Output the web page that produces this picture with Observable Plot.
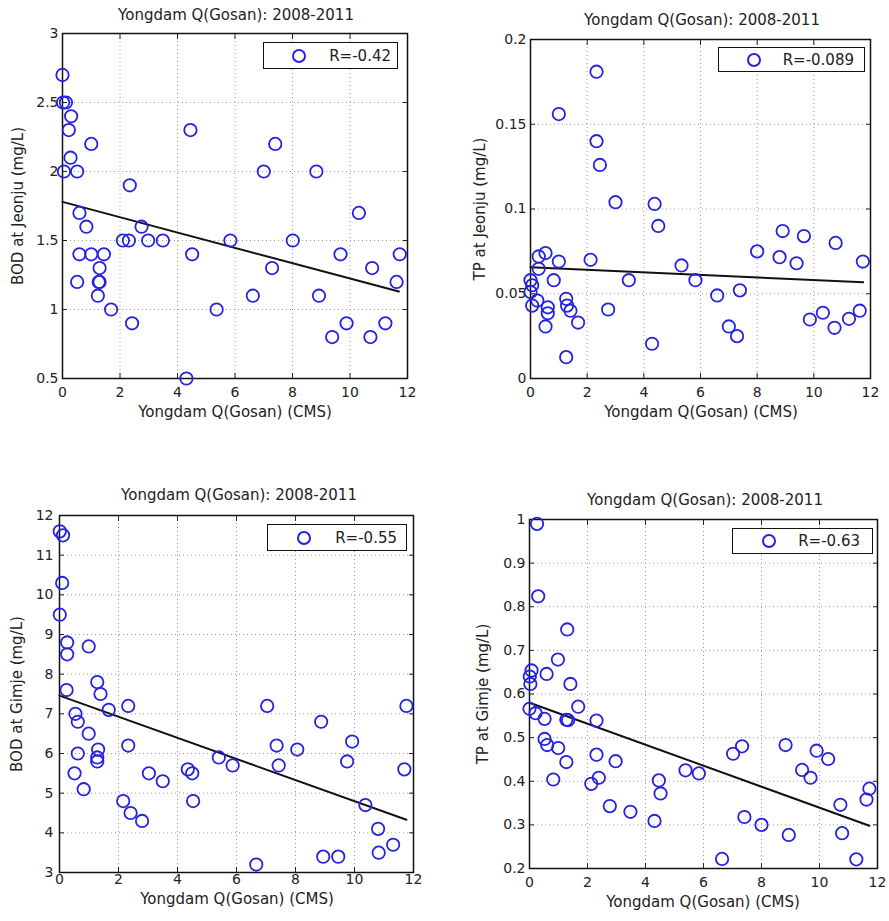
<!DOCTYPE html>
<html>
<head>
<meta charset="utf-8">
<script src="https://cdn.jsdelivr.net/npm/d3@7"></script>
<script src="https://cdn.jsdelivr.net/npm/@observablehq/plot@0.6"></script>
<style>
  html, body { margin: 0; padding: 0; background: #fff; }
  #root { position: relative; width: 889px; height: 921px; overflow: hidden; background: #fff;
          font-family: "DejaVu Sans", sans-serif; color: #222; }
  .abs { position: absolute; }
  .title, .xlab { position: absolute; transform: translate(-50%, -50%); white-space: nowrap; font-size: 15px; }
  .ylab { position: absolute; transform: translate(-50%, -50%) rotate(-90deg); white-space: nowrap; font-size: 15px; }
  .legend { position: absolute; box-sizing: border-box; border: 1.4px solid #111; background: #fff;
            font-size: 15px; display: flex; align-items: center; justify-content: flex-end; }
  .legend .mk { position: absolute; top: 50%; width: 10px; height: 10px; border: 2px solid #2323e0;
                border-radius: 50%; transform: translate(-50%, -50%); }
</style>
</head>
<body>
<div id="root"></div>
<script>
// ---------- shared ----------
const titleText = "Yongdam Q(Gosan): 2008-2011";
const xLabelText = "Yongdam Q(Gosan) (CMS)";
const xTicks = [0, 2, 4, 6, 8, 10, 12];

// ---------- Panel 1: BOD at Jeonju ----------
const bodJeonjuQ = [0.0, 0.02, 0.12, 0.3, 0.22, 1.0, 0.28, 0.05, 0.51, 2.34, 4.45, 7.4, 7.0, 8.83,
  10.31, 0.59, 0.83, 2.75, 2.1, 2.31, 2.98, 3.49, 5.84, 8.01,
  0.59, 1.0, 1.44, 4.51, 9.67, 11.73, 1.29, 7.29, 10.77,
  0.51, 1.29, 1.26, 11.62, 1.23, 6.62, 8.92, 1.69, 5.36,
  2.42, 9.88, 11.23, 9.38, 10.71, 4.31];
const bodJeonju = [2.7, 2.5, 2.5, 2.4, 2.3, 2.2, 2.1, 2.0, 2.0, 1.9, 2.3, 2.2, 2.0, 2.0,
  1.7, 1.7, 1.6, 1.6, 1.5, 1.5, 1.5, 1.5, 1.5, 1.5,
  1.4, 1.4, 1.4, 1.4, 1.4, 1.4, 1.3, 1.3, 1.3,
  1.2, 1.2, 1.2, 1.2, 1.1, 1.1, 1.1, 1.0, 1.0,
  0.9, 0.9, 0.9, 0.8, 0.8, 0.5];
const bodJeonjuFitQ = [0, 11.7];
const bodJeonjuFit = [1.78, 1.13];
const bodJeonjuTicks = [0.5, 1, 1.5, 2, 2.5, 3];

// ---------- Panel 2: TP at Jeonju ----------
const tpJeonjuQ = [2.33, 1.0, 2.33, 2.45, 3.0, 4.38, 4.51, 8.9, 9.65, 10.77, 8.0, 8.79, 9.39, 11.73, 5.33,
  2.12, 1.0, 0.53, 0.29, 0.29, 0.82, 3.47, 5.82, 0.0, 0.06, 0.0, 0.24, 0.06, 0.61, 0.61,
  0.53, 1.26, 1.29, 1.41, 1.68, 1.26, 2.74, 4.29, 6.59, 7.39, 7.0, 7.29, 9.86, 10.32, 10.73,
  11.24, 11.62];
const tpJeonju = [0.181, 0.156, 0.140, 0.126, 0.104, 0.103, 0.090, 0.087, 0.084, 0.080, 0.075, 0.0716, 0.068, 0.069, 0.0667,
  0.070, 0.069, 0.074, 0.072, 0.0647, 0.058, 0.058, 0.058, 0.058, 0.055, 0.051, 0.046, 0.043, 0.042, 0.0385,
  0.0307, 0.047, 0.043, 0.040, 0.033, 0.0126, 0.0407, 0.0205, 0.049, 0.052, 0.0307, 0.025, 0.0348, 0.0388, 0.0299,
  0.0352, 0.040];
const tpJeonjuFitQ = [0, 11.74];
const tpJeonjuFit = [0.0657, 0.0568];
const tpJeonjuTicks = [0, 0.05, 0.1, 0.15, 0.2];

// ---------- Panel 3: BOD at Gimje ----------
const bodGimjeQ = [0.01, 0.12, 0.09, 0.01, 0.26, 0.26, 0.99, 1.28,
  0.24, 1.39, 1.67, 2.33, 0.54, 0.62, 0.99, 1.31, 1.28, 1.28, 0.62, 2.33,
  0.51, 0.82, 3.03, 3.5, 2.16, 2.41, 2.8, 4.35, 4.5, 4.53, 5.4, 5.87,
  7.04, 7.36, 7.43, 8.06, 8.87, 9.92, 9.75, 10.37, 10.8, 10.82, 11.31,
  8.94, 9.45, 6.67, 11.76, 11.69];
const bodGimje = [11.6, 11.5, 10.3, 9.5, 8.8, 8.5, 8.7, 7.8,
  7.6, 7.5, 7.1, 7.2, 7.0, 6.8, 6.5, 6.1, 5.9, 5.8, 6.0, 6.2,
  5.5, 5.1, 5.5, 5.3, 4.8, 4.5, 4.3, 5.6, 5.5, 4.8, 5.9, 5.7,
  7.2, 6.2, 5.7, 6.1, 6.8, 6.3, 5.8, 4.7, 4.1, 3.5, 3.7,
  3.4, 3.4, 3.2, 7.2, 5.6];
const bodGimjeFitQ = [0, 11.76];
const bodGimjeFit = [7.46, 4.33];
const bodGimjeTicks = [3, 4, 5, 6, 7, 8, 9, 10, 11, 12];

// ---------- Panel 4: TP at Gimje ----------
const tpGimjeQ = [0.26, 0.3, 1.3, 0.98, 0.07, 0.01, 0.59, 1.41, 0.03, 0.0,
  0.21, 0.52, 1.68, 1.27, 1.33, 2.31, 0.52, 0.61, 0.99, 1.27,
  0.82, 2.31, 2.97, 2.13, 2.39, 2.77, 3.48, 4.31, 4.46, 4.52,
  5.38, 5.84, 6.64, 7.02, 7.33, 7.41, 8.0, 8.83, 8.94, 9.4,
  9.69, 9.9, 10.3, 10.72, 10.78, 11.27, 11.62, 11.72];
const tpGimje = [0.99, 0.824, 0.748, 0.679, 0.654, 0.64, 0.646, 0.623, 0.623, 0.566,
  0.556, 0.543, 0.571, 0.541, 0.54, 0.539, 0.497, 0.483, 0.476, 0.444,
  0.404, 0.461, 0.446, 0.394, 0.408, 0.343, 0.33, 0.309, 0.402, 0.372,
  0.425, 0.418, 0.222, 0.463, 0.48, 0.318, 0.30, 0.483, 0.277, 0.426,
  0.408, 0.47, 0.451, 0.346, 0.281, 0.221, 0.358, 0.383];
const tpGimjeFitQ = [0, 11.72];
const tpGimjeFit = [0.58, 0.298];
const tpGimjeTicks = [0.2, 0.3, 0.4, 0.5, 0.6, 0.7, 0.8, 0.9, 1];

const rLabels = ["R=-0.42", "R=-0.089", "R=-0.55", "R=-0.63"];
const yLabels = ["BOD at Jeonju (mg/L)", "TP at Jeonju (mg/L)", "BOD at Gimje (mg/L)", "TP at Gimje (mg/L)"];

const BLUE = "#2323e0";
const root = document.getElementById("root");

function makePanel(cfg) {
  const pts = cfg.q.map((q, i) => ({q, v: cfg.v[i]}));
  const fit = cfg.fitQ.map((q, i) => ({q, v: cfg.fit[i]}));
  const g = cfg.geom;
  const chart = Plot.plot({
    width: g.w, height: g.h,
    marginLeft: g.fl - g.left, marginRight: g.left + g.w - g.fr,
    marginTop: g.ft - g.top, marginBottom: g.top + g.h - g.fb,
    style: {fontFamily: "DejaVu Sans, sans-serif", fontSize: "14px", color: "#222", background: "transparent", overflow: "visible"},
    x: {domain: [0, 12]},
    y: {domain: cfg.yDomain},
    marks: [
      Plot.gridX(xTicks, {stroke: "#9a9a9a", strokeOpacity: 1, strokeWidth: 1, strokeDasharray: "1,3"}),
      Plot.gridY(cfg.yTicks, {stroke: "#9a9a9a", strokeOpacity: 1, strokeWidth: 1, strokeDasharray: "1,3"}),
      Plot.axisX(xTicks, {anchor: "bottom", tickSize: -5, tickPadding: g.tpx, tickFormat: d => String(d), label: null}),
      Plot.axisX(xTicks, {anchor: "top", tickSize: -5, tickFormat: () => "", label: null}),
      Plot.axisY(cfg.yTicks, {anchor: "left", tickSize: -5, tickPadding: g.tpy, tickFormat: d => String(d), label: null}),
      Plot.axisY(cfg.yTicks, {anchor: "right", tickSize: -5, tickFormat: () => "", label: null}),
      Plot.frame({stroke: "#111", strokeWidth: 1.5}),
      Plot.line(fit, {x: "q", y: "v", stroke: "#111", strokeWidth: 2}),
      Plot.dot(pts, {x: "q", y: "v", r: 6.2, stroke: BLUE, strokeWidth: 1.8, fill: "none"})
    ]
  });
  chart.style.position = "absolute";
  chart.style.left = g.left + "px";
  chart.style.top = g.top + "px";
  root.appendChild(chart);

  const t = document.createElement("div");
  t.className = "title"; t.textContent = titleText;
  t.style.left = g.titleX + "px"; t.style.top = g.titleY + "px";
  root.appendChild(t);

  const xl = document.createElement("div");
  xl.className = "xlab"; xl.textContent = xLabelText;
  xl.style.left = g.xlX + "px"; xl.style.top = g.xlY + "px";
  root.appendChild(xl);

  const yl = document.createElement("div");
  yl.className = "ylab"; yl.textContent = cfg.yLabel;
  yl.style.left = g.ylX + "px"; yl.style.top = ((g.ft + g.fb) / 2) + "px";
  root.appendChild(yl);

  const lg = document.createElement("div");
  lg.className = "legend";
  lg.style.left = g.lg[0] + "px"; lg.style.top = g.lg[1] + "px";
  lg.style.width = g.lg[2] + "px"; lg.style.height = g.lg[3] + "px";
  lg.style.paddingRight = g.lg[5] + "px";
  const mk = document.createElement("span");
  mk.className = "mk"; mk.style.left = g.lg[4] + "px";
  lg.appendChild(mk);
  const lt = document.createElement("span");
  lt.textContent = cfg.rLabel;
  lg.appendChild(lt);
  root.appendChild(lg);
}

makePanel({
  q: bodJeonjuQ, v: bodJeonju, fitQ: bodJeonjuFitQ, fit: bodJeonjuFit,
  yDomain: [0.5, 3], yTicks: bodJeonjuTicks, yLabel: yLabels[0], rLabel: rLabels[0],
  geom: {left: 0, top: 0, w: 440, h: 420, fl: 62, fr: 407, ft: 33, fb: 378, tpx: 14, tpy: 9,
         titleX: 236, titleY: 15, xlX: 235, xlY: 412, ylX: 18, lg: [263, 42, 135, 27, 35, 6]}
});
makePanel({
  q: tpJeonjuQ, v: tpJeonju, fitQ: tpJeonjuFitQ, fit: tpJeonjuFit,
  yDomain: [0, 0.2], yTicks: tpJeonjuTicks, yLabel: yLabels[1], rLabel: rLabels[1],
  geom: {left: 445, top: 0, w: 444, h: 420, fl: 530, fr: 870, ft: 39, fb: 378, tpx: 14, tpy: 9,
         titleX: 702, titleY: 20, xlX: 701, xlY: 412, ylX: 480, lg: [718, 47, 147, 25, 35, 10]}
});
makePanel({
  q: bodGimjeQ, v: bodGimje, fitQ: bodGimjeFitQ, fit: bodGimjeFit,
  yDomain: [3, 12], yTicks: bodGimjeTicks, yLabel: yLabels[2], rLabel: rLabels[2],
  geom: {left: 0, top: 460, w: 440, h: 461, fl: 59, fr: 413, ft: 515, fb: 872, tpx: 7, tpy: 11,
         titleX: 239, titleY: 495, xlX: 237, xlY: 899, ylX: 17, lg: [267, 524, 140, 27, 36, 9]}
});
makePanel({
  q: tpGimjeQ, v: tpGimje, fitQ: tpGimjeFitQ, fit: tpGimjeFit,
  yDomain: [0.2, 1], yTicks: tpGimjeTicks, yLabel: yLabels[3], rLabel: rLabels[3],
  geom: {left: 445, top: 460, w: 444, h: 461, fl: 529, fr: 877, ft: 519, fb: 868, tpx: 14, tpy: 9,
         titleX: 705, titleY: 500, xlX: 703, xlY: 902, ylX: 483, lg: [732, 528, 141, 26, 36, 12]}
});
</script>
</body>
</html>
